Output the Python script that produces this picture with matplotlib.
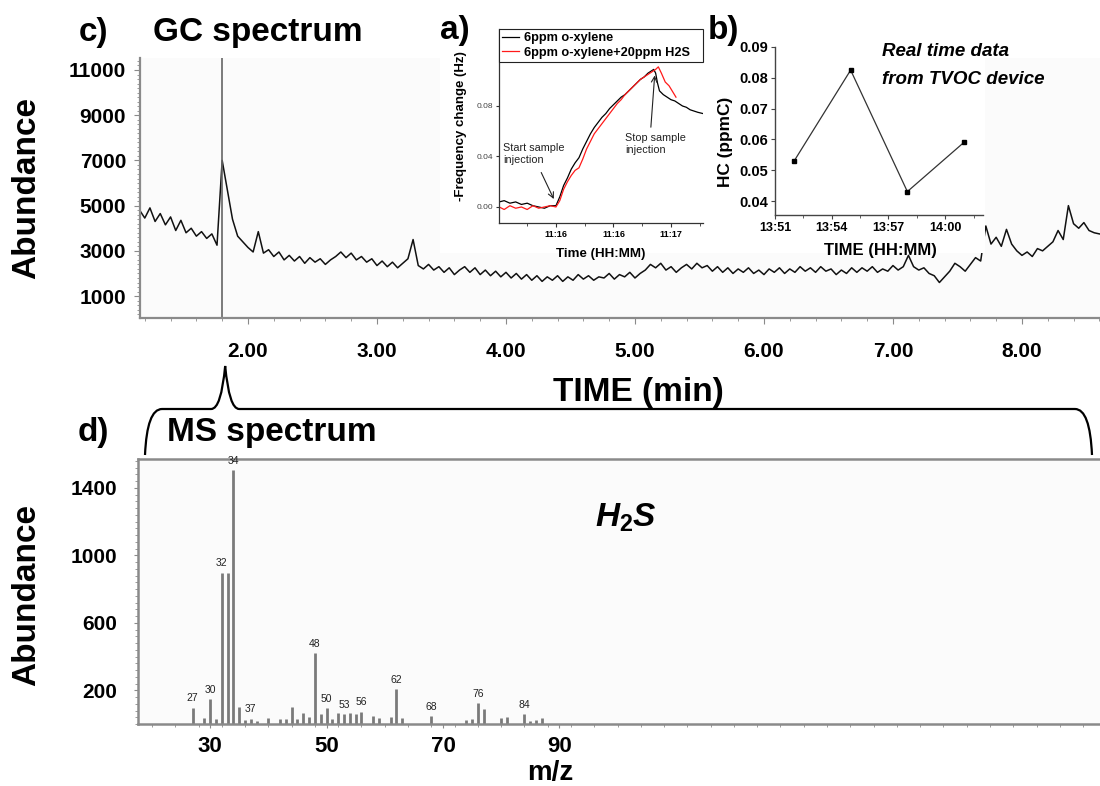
import numpy as np
import matplotlib
matplotlib.use('Agg')
import matplotlib.pyplot as plt
from matplotlib.patches import Rectangle, PathPatch
from matplotlib.path import Path
from matplotlib.ticker import MultipleLocator, FixedLocator, FuncFormatter

plt.rcParams['font.family'] = ['Liberation Sans', 'DejaVu Sans']
plt.rcParams['font.weight'] = 'bold'
plt.rcParams['axes.labelweight'] = 'bold'
plt.rcParams['mathtext.fontset'] = 'custom'
plt.rcParams['mathtext.it'] = 'Liberation Sans:italic:bold'
plt.rcParams['mathtext.rm'] = 'Liberation Sans:bold'

# ---------------- data ----------------
# c) GC spectrum (abundance vs retention time, min)
gc_time = np.linspace(1.16, 8.60, 187)
gc_abundance = [
    4800, 4450, 4900, 4300, 4650, 4150, 4500, 3900, 4350, 3800,
    4000, 3650, 3850, 3550, 3750, 3250, 7000, 5700, 4400, 3650,
    3400, 3150, 2950, 3850, 2900, 3050, 2750, 2950, 2600, 2800,
    2550, 2750, 2450, 2700, 2500, 2650, 2400, 2600, 2750, 2950,
    2700, 2900, 2600, 2750, 2500, 2650, 2350, 2550, 2300, 2500,
    2250, 2450, 2650, 3500, 2350, 2200, 2400, 2150, 2300, 2050,
    2250, 1950, 2150, 2300, 2050, 2250, 1950, 2150, 1900, 2100,
    1850, 2050, 1800, 2000, 1750, 1950, 1700, 1900, 1650, 1850,
    1700, 1900, 1650, 1850, 1700, 1950, 1750, 1900, 1700, 1850,
    1800, 2000, 1750, 1950, 1850, 2050, 1800, 2000, 2150, 2400,
    2250, 2450, 2150, 2300, 2050, 2250, 2400, 2200, 2450, 2250,
    2350, 2100, 2300, 2050, 2250, 2000, 2200, 2050, 2250, 2000,
    2150, 1950, 2200, 2050, 2250, 2000, 2200, 2050, 2300, 2100,
    2250, 2050, 2300, 2100, 2200, 1950, 2150, 2000, 2250, 2050,
    2250, 2100, 2300, 2050, 2200, 2100, 2350, 2150, 2300, 2800,
    2300, 2150, 2250, 2000, 1900, 1600, 1850, 2100, 2450, 2300,
    2100, 2400, 2700, 2550, 4100, 3300, 3600, 3200, 3950, 3300,
    3000, 2800, 2950, 2750, 3100, 3000, 3200, 3400, 3900, 3500,
    5000, 4200, 4000, 4250, 3900, 3800, 3750,
]
gc_peak_time = 1.80
gc_yticks = [1000, 3000, 5000, 7000, 9000, 11000]
gc_xticks = [2, 3, 4, 5, 6, 7, 8]

# d) MS spectrum
ms_mz = [27, 29, 30, 31, 32, 33, 34, 35, 36, 37, 38, 40, 42, 43, 44, 45, 46, 47, 48, 49,
         50, 51, 52, 53, 54, 55, 56, 58, 59, 61, 62, 63, 68, 74, 75, 76, 77, 80, 81, 84,
         85, 86, 87]
ms_abund = [97, 38, 148, 32, 898, 898, 1506, 103, 24, 32, 18, 38, 32, 32, 103, 32, 67, 43, 419, 59,
            93, 28, 63, 59, 67, 59, 73, 47, 34, 43, 206, 34, 47, 24, 28, 123, 91, 38, 43, 59,
            20, 24, 34]
ms_labeled = [27, 30, 32, 34, 37, 48, 50, 53, 56, 62, 68, 76, 84]
ms_yticks = [200, 600, 1000, 1400]
ms_xticks = [30, 50, 70, 90]

# a) QCM response (time in s after 11:15:00)
a_t_xyl = [30.4, 33, 36, 39, 42, 45, 48, 51, 54, 57, 60, 62, 64, 66, 68, 70, 72, 74, 76, 78,
           80, 82, 84, 86, 88, 90, 92, 94, 96, 98, 100, 102, 104, 106, 108, 110, 111, 112, 113,
           114, 116, 118, 120, 122, 124, 126, 128, 130, 132, 134, 136.7]
a_y_xyl = [0.004, 0.005, 0.003, 0.004, 0.002, 0.003, 0.001, 0.000, -0.001, 0.001, 0.001, 0.008,
           0.017, 0.023, 0.030, 0.035, 0.039, 0.046, 0.052, 0.058, 0.063, 0.067, 0.071, 0.074,
           0.078, 0.081, 0.084, 0.087, 0.089, 0.092, 0.095, 0.098, 0.101, 0.103, 0.106, 0.108,
           0.109, 0.106, 0.098, 0.092, 0.089, 0.087, 0.085, 0.084, 0.082, 0.080, 0.079, 0.077,
           0.076, 0.075, 0.074]
a_t_h2s = [30.4, 33, 36, 39, 42, 45, 48, 51, 54, 57, 60, 62, 64, 66, 68, 70, 72, 74, 76, 78,
           80, 82, 84, 86, 88, 90, 92, 94, 96, 98, 100, 102, 104, 106, 108, 110, 112, 113.4,
           115, 117, 119, 121, 122.6]
a_y_h2s = [0.000, -0.002, 0.001, -0.001, 0.000, -0.002, 0.001, -0.001, 0.000, 0.001, 0.000,
           0.005, 0.014, 0.020, 0.025, 0.029, 0.031, 0.038, 0.046, 0.052, 0.058, 0.062, 0.066,
           0.070, 0.074, 0.078, 0.082, 0.085, 0.089, 0.092, 0.095, 0.098, 0.101, 0.103, 0.105,
           0.107, 0.109, 0.111, 0.106, 0.099, 0.096, 0.091, 0.087]
a_xticks = [60, 90, 120]
a_xticklabels = ['11:16', '11:16', '11:17']
a_yticks = [0.00, 0.04, 0.08]

# b) TVOC device (minutes after 13:51)
b_minutes = [1, 4, 7, 10]
b_hc = [0.0529, 0.0825, 0.0431, 0.0591]
b_xticks = [0, 3, 6, 9]
b_xticklabels = ['13:51', '13:54', '13:57', '14:00']
b_yticks = [0.04, 0.05, 0.06, 0.07, 0.08, 0.09]

# ---------------- layout helpers ----------------
W, H = 1100, 786
fig = plt.figure(figsize=(W / 100, H / 100), dpi=100)


def rect(l, t, r, b):
    return [l / W, 1 - b / H, (r - l) / W, (b - t) / H]


def fx(x):
    return x / W


def fy(y):
    return 1 - y / H


GRAY = '#8a8a8a'

# ---------------- c) GC ----------------
ax = fig.add_axes(rect(140, 58, 1100, 318))
ax.set_facecolor('#fbfbfb')
ax.plot(gc_time, gc_abundance, color='#111111', lw=1.1)
ax.axvline(gc_peak_time, color='#666666', lw=1.2)
ax.set_xlim(1.163, 8.605)
ax.set_ylim(30, 11530)
ax.set_yticks(gc_yticks)
ax.set_xticks(gc_xticks)
ax.xaxis.set_major_formatter(FuncFormatter(lambda v, p: f'{v:.2f}'))
ax.yaxis.set_minor_locator(MultipleLocator(200))
ax.xaxis.set_minor_locator(MultipleLocator(0.2))
for s in ['top', 'right']:
    ax.spines[s].set_visible(False)
for s in ['left', 'bottom']:
    ax.spines[s].set_color(GRAY)
    ax.spines[s].set_linewidth(1.6)
ax.tick_params(axis='both', which='both', colors=GRAY, labelcolor='black')
ax.tick_params(axis='y', which='major', length=4, labelsize=15, pad=6)
ax.tick_params(axis='y', which='minor', length=2)
ax.tick_params(axis='x', which='major', length=4, labelsize=15, pad=13)
ax.tick_params(axis='x', which='minor', length=2)

# ---------------- d) MS ----------------
ax2 = fig.add_axes(rect(138, 459, 1100, 724))
ax2.set_facecolor('#fbfbfb')
ax2.vlines(ms_mz, 0, ms_abund, color='#7a7a7a', lw=2.0)
for mz, ab in zip(ms_mz, ms_abund):
    if mz in ms_labeled:
        ax2.text(mz, ab + 25, str(mz), ha='center', va='bottom', fontsize=7.5,
                 fontweight='normal', color='#222222')
ax2.set_xlim(17.6, 182.9)
ax2.set_ylim(0, 1571)
ax2.set_xticks(ms_xticks)
ax2.set_yticks(ms_yticks)
ax2.xaxis.set_minor_locator(MultipleLocator(4))
ax2.yaxis.set_minor_locator(MultipleLocator(40))
ax2.spines['right'].set_visible(False)
for s in ['left', 'bottom', 'top']:
    ax2.spines[s].set_color(GRAY)
    ax2.spines[s].set_linewidth(1.8)
ax2.tick_params(axis='both', which='both', colors=GRAY, labelcolor='black')
ax2.tick_params(axis='y', which='major', length=3, labelsize=15, pad=12)
ax2.tick_params(axis='y', which='minor', length=2)
ax2.tick_params(axis='x', which='major', length=3, labelsize=16, pad=6)
ax2.tick_params(axis='x', which='minor', length=2)
ax2.text(0.475, 0.78, r'$\mathit{H_2S}$', transform=ax2.transAxes, fontsize=24,
         ha='left', va='center')

# ---------------- white backgrounds for insets ----------------
fig.patches.append(Rectangle((fx(440), fy(253)), (718 - 440) / W, 253 / H,
                             transform=fig.transFigure, facecolor='white',
                             edgecolor='none', zorder=1))
fig.patches.append(Rectangle((fx(718), fy(253)), (985 - 718) / W, 253 / H,
                             transform=fig.transFigure, facecolor='white',
                             edgecolor='none', zorder=1))

# ---------------- a) inset ----------------
axa = fig.add_axes(rect(499, 29, 703, 223), zorder=3)
axa.set_facecolor('white')
axa.plot(a_t_xyl, a_y_xyl, color='black', lw=0.9, label='6ppm o-xylene')
axa.plot(a_t_h2s, a_y_h2s, color='#ff1a1a', lw=0.9, label='6ppm o-xylene+20ppm H2S')
axa.set_xlim(30.3, 136.7)
axa.set_ylim(-0.0127, 0.141)
axa.set_xticks(a_xticks)
axa.set_xticklabels(a_xticklabels)
axa.set_yticks(a_yticks)
axa.yaxis.set_major_formatter(FuncFormatter(lambda v, p: f'{v:.2f}'))
axa.xaxis.set_minor_locator(FixedLocator([45, 75, 105, 135]))
for s in ['top', 'right']:
    axa.spines[s].set_visible(False)
for s in ['left', 'bottom']:
    axa.spines[s].set_color('#333333')
    axa.spines[s].set_linewidth(0.9)
axa.tick_params(axis='x', which='major', length=3, labelsize=6.5, pad=2, color='#333333')
axa.tick_params(axis='x', which='minor', length=2, color='#333333')
axa.tick_params(axis='y', which='major', length=2, labelsize=6, pad=2, color='#333333',
                labelcolor='#444444')
for lbl in axa.get_yticklabels():
    lbl.set_fontweight('normal')
axa.set_ylabel('-Frequency change (Hz)', fontsize=9.5)
axa.yaxis.set_label_coords(-0.157, 0.5)
axa.set_xlabel('Time (HH:MM)', fontsize=9.6)
axa.xaxis.set_label_coords(0.5, -0.13)
leg = axa.legend(loc='upper left', bbox_to_anchor=(0, 1, 1, 0), mode='expand',
                 fontsize=9.2, handlelength=1.3, handletextpad=0.4, borderpad=0.25,
                 labelspacing=0.2, fancybox=False, framealpha=1, edgecolor='#222222',
                 borderaxespad=0)
leg.get_frame().set_linewidth(0.8)
axa.text(32.5, 0.051, 'Start sample\ninjection', fontsize=7.8, fontweight='normal',
         color='#222222', ha='left', va='top', linespacing=1.3)
axa.annotate('', xy=(59.5, 0.0043), xytext=(51.7, 0.0293),
             arrowprops=dict(arrowstyle='->', lw=0.8, color='#222222'))
axa.text(96.0, 0.0586, 'Stop sample\ninjection', fontsize=7.8, fontweight='normal',
         color='#222222', ha='left', va='top', linespacing=1.3)
axa.annotate('', xy=(111.6, 0.1064), xytext=(109.4, 0.061),
             arrowprops=dict(arrowstyle='->', lw=0.8, color='#222222'))

# ---------------- b) inset ----------------
axb = fig.add_axes(rect(775, 47, 983, 215), zorder=3)
axb.set_facecolor('white')
axb.plot(b_minutes, b_hc, color='#333333', lw=0.9, marker='s', markersize=3,
         markerfacecolor='black', markeredgecolor='black')
axb.set_xlim(0, 11)
axb.set_ylim(0.0355, 0.09)
axb.set_xticks(b_xticks)
axb.set_xticklabels(b_xticklabels)
axb.set_yticks(b_yticks)
axb.yaxis.set_major_formatter(FuncFormatter(lambda v, p: f'{v:.2f}'))
axb.xaxis.set_minor_locator(FixedLocator([1.5, 4.5, 7.5, 10.5]))
for s in ['top', 'right']:
    axb.spines[s].set_visible(False)
for s in ['left', 'bottom']:
    axb.spines[s].set_color('#444444')
    axb.spines[s].set_linewidth(1.0)
axb.tick_params(axis='x', which='major', length=3, labelsize=9, pad=2, color='#444444')
axb.tick_params(axis='x', which='minor', length=2, color='#444444')
axb.tick_params(axis='y', which='major', length=3, labelsize=10.5, pad=2, color='#444444')
axb.set_ylabel('HC (ppmC)', fontsize=12.4)
axb.yaxis.set_label_coords(-0.202, 0.436)
axb.set_xlabel('TIME (HH:MM)', fontsize=12)
axb.xaxis.set_label_coords(0.505, -0.167)

# ---------------- figure texts ----------------
fig.text(fx(79), fy(32), 'c)', fontsize=24, ha='left', va='center')
fig.text(fx(153), fy(32), 'GC spectrum', fontsize=24, ha='left', va='center')
fig.text(fx(440), fy(30), 'a)', fontsize=24, ha='left', va='center')
fig.text(fx(708), fy(30), 'b)', fontsize=24, ha='left', va='center')
fig.text(fx(882), fy(52), 'Real time data', fontsize=13.5, style='italic', ha='left', va='center')
fig.text(fx(882), fy(79), 'from TVOC device', fontsize=13.5, style='italic', ha='left', va='center')
fig.text(fx(27), fy(188), 'Abundance', fontsize=24, rotation=90, ha='center', va='center')
fig.text(fx(638), fy(392), 'TIME (min)', fontsize=24, ha='center', va='center')
fig.text(fx(78), fy(433), 'd)', fontsize=24, ha='left', va='center')
fig.text(fx(167), fy(433), 'MS spectrum', fontsize=24, ha='left', va='center')
fig.text(fx(27), fy(595), 'Abundance', fontsize=24, rotation=90, ha='center', va='center')
fig.text(fx(550), fy(773), 'm/z', fontsize=20, ha='center', va='center')

# ---------------- curly bracket from GC peak to MS panel ----------------
pk = ax.transData.transform((gc_peak_time, 0))[0] + 3
yb, yl, yp = 455, 409, 366
pts = [(145, yb), (147, yl), (162, yl), (pk - 14, yl), (pk - 4, yl), (pk, yp),
       (pk + 4, yl), (pk + 14, yl), (1075, yl), (1090, yl), (1092, yb)]
codes = [Path.MOVETO, Path.CURVE3, Path.CURVE3, Path.LINETO, Path.CURVE3, Path.CURVE3,
         Path.CURVE3, Path.CURVE3, Path.LINETO, Path.CURVE3, Path.CURVE3]
verts = [(fx(x), fy(y)) for x, y in pts]
fig.patches.append(PathPatch(Path(verts, codes), transform=fig.transFigure,
                             fill=False, lw=1.6, edgecolor='black', zorder=4))

fig.savefig('out.png', dpi=100)
